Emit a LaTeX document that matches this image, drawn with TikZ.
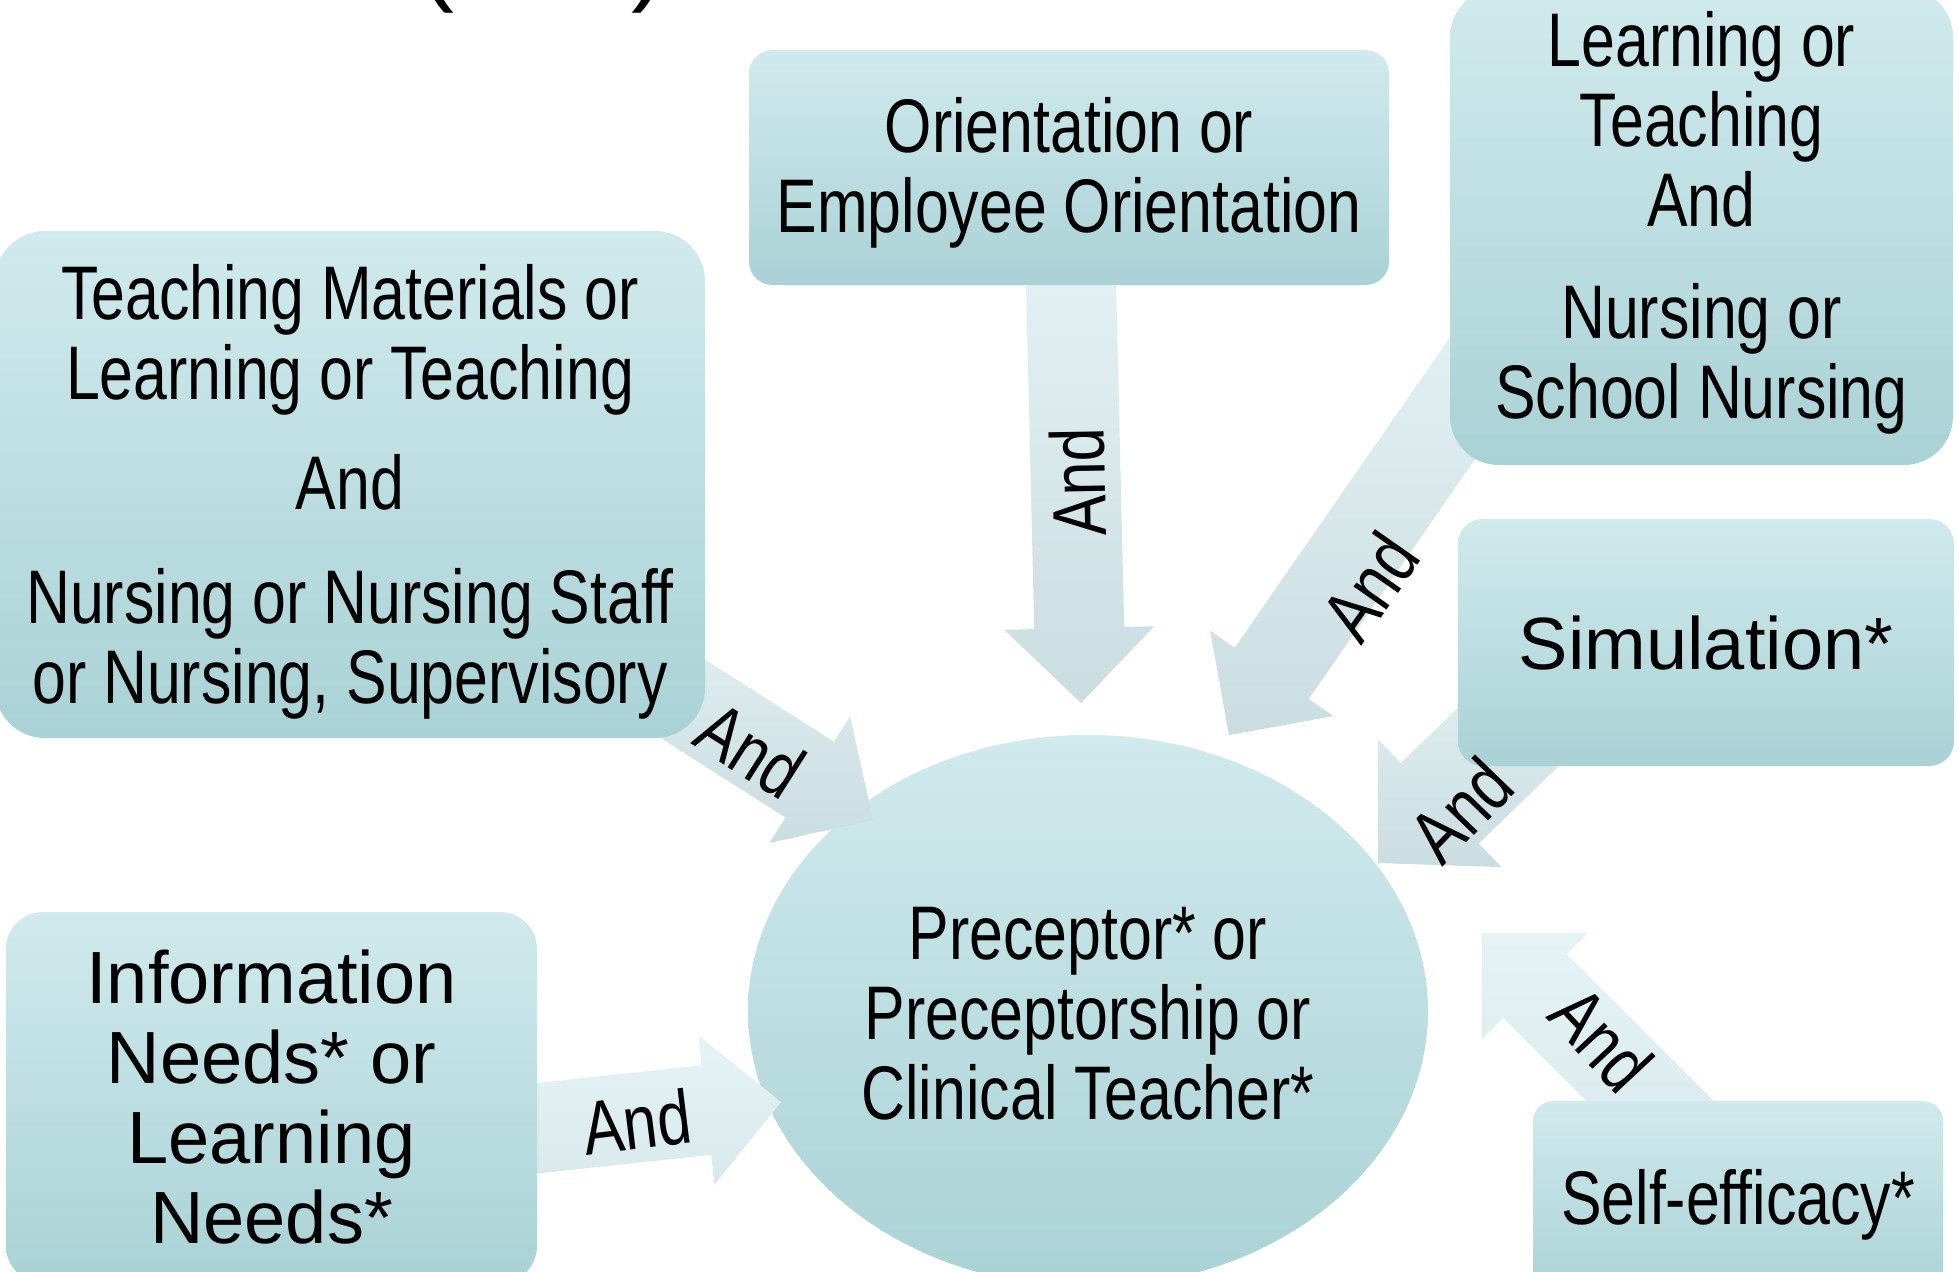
\documentclass[tikz,border=0pt]{standalone}
\usepackage{fontspec}
\setmainfont{Liberation Sans}
\newfontfamily\narrowfont{Liberation Sans}[FakeStretch=0.8]
\usetikzlibrary{shapes.geometric,calc}

\definecolor{boxtop}{RGB}{208,234,237}
\definecolor{boxbot}{RGB}{170,210,214}
\definecolor{arrtop}{RGB}{228,242,245}
\definecolor{arrbot}{RGB}{202,221,224}
\definecolor{arrlighttop}{RGB}{229,243,245}
\definecolor{arrlightbot}{RGB}{216,233,236}

\tikzset{
  termbox/.style={rectangle, inner sep=0pt, draw=none, top color=boxtop, bottom color=boxbot},
  coreshape/.style={ellipse, inner sep=0pt, draw=none, top color=boxtop, bottom color=boxbot},
  narrowtext/.style={inner sep=0pt, align=center, font=\narrowfont\fontsize{38}{40}\selectfont},
  widetext/.style={inner sep=0pt, align=center, font=\fontsize{37}{40}\selectfont},
  andlabel/.style={inner sep=0pt, font=\narrowfont\fontsize{38}{40}\selectfont},
  arrowbody/.style={top color=arrtop, bottom color=arrbot, draw=none},
  arrowlight/.style={top color=arrlighttop, bottom color=arrlightbot, draw=none},
}

% #1 tail, #2 tip, #3 shaft half width, #4 head half width, #5 head length, #6 style
\newcommand{\blockarrow}[6]{%
  \coordinate (#2-base) at ($(#2)!#5!(#1)$);
  \path[#6] ($(#1)!#3!90:(#2)$) -- ($(#2-base)!#3!90:(#2)$) -- ($(#2-base)!#4!90:(#2)$)
    -- (#2) -- ($(#2-base)!#4!-90:(#2)$) -- ($(#2-base)!#3!-90:(#2)$)
    -- ($(#1)!#3!-90:(#2)$) -- cycle;
}

\begin{document}
\begin{tikzpicture}[x=0.5pt,y=-0.5pt]
\useasboundingbox (0,0) rectangle (1958,1271);
\clip (0,0) rectangle (1958,1271);

% cut-off title line
\node[anchor=base west, inner sep=0pt, font=\fontsize{52.5}{60}\selectfont] (title) at (419,-9) {(\hspace{88.6pt})};

% central ellipse
\node[coreshape, minimum width=340pt, minimum height=276pt] (core) at (1088,1011) {};

% arrow end points
\coordinate (sA) at (1070,240);  \coordinate (tA) at (1081,703);
\coordinate (sB) at (553,616);   \coordinate (tB) at (873,820);
\coordinate (sC) at (1525,308);  \coordinate (tC) at (1229,735);
\coordinate (sD) at (1565,682);  \coordinate (tD) at (1378,863);
\coordinate (sE) at (1694,1145); \coordinate (tE) at (1482,933);
\coordinate (sF) at (493,1133);  \coordinate (tF) at (781,1102);

\blockarrow{sA}{tA}{22.5pt}{37.5pt}{37.5pt}{arrowbody}
\blockarrow{sB}{tB}{22.5pt}{37.5pt}{37.5pt}{arrowbody}
\blockarrow{sC}{tC}{22.5pt}{37.5pt}{37.5pt}{arrowbody}
\blockarrow{sD}{tD}{28pt}{44.5pt}{43pt}{arrowbody}
\blockarrow{sE}{tE}{22.5pt}{37.5pt}{37.5pt}{arrowlight}
\blockarrow{sF}{tF}{22.5pt}{37.5pt}{37.5pt}{arrowlight}

% boxes
\node[termbox, minimum width=320pt, minimum height=117.5pt, rounded corners=11.75pt] (orient) at (1069,167.5) {};
\node[termbox, minimum width=355pt, minimum height=253.5pt, rounded corners=25pt] (teach) at (350,484.5) {};
\node[termbox, minimum width=251.5pt, minimum height=238.5pt, rounded corners=24.5pt] (school) at (1701.5,226.5) {};
\node[termbox, minimum width=248pt, minimum height=123.5pt, rounded corners=12.4pt] (sim) at (1706,642.5) {};
\node[termbox, minimum width=265.5pt, minimum height=185.5pt, rounded corners=18.5pt] (info) at (271.5,1097.5) {};
\node[termbox, minimum width=205pt, minimum height=98pt, rounded corners=10pt] (self) at (1738,1199) {};

% arrow labels
\node[andlabel, rotate=91]   (lA) at (1078,482)  {And};
\node[andlabel, rotate=-32.5] (lB) at (751,750)  {And};
\node[andlabel, rotate=55]   (lC) at (1370,587)  {And};
\node[andlabel, rotate=46]   (lD) at (1461,810)  {And};
\node[andlabel, rotate=-47]  (lE) at (1602,1039) {And};
\node[andlabel, rotate=7]    (lF) at (637,1122)  {And};

% texts
\node[narrowtext] (orientT) at (1069,172.5) {Orientation or\\Employee Orientation};
\node[narrowtext] (teachT) at (350,491.5) {Teaching Materials or\\Learning or Teaching\\[15pt]And\\[17pt]Nursing or Nursing Staff\\or Nursing, Supervisory};
\node[narrowtext] (schoolT) at (1701.5,222.5) {Learning or\\Teaching\\And\\[16pt]Nursing or\\School Nursing};
\node[widetext] (simT) at (1706,643) {Simulation*};
\node[widetext] (infoT) at (271.5,1097.5) {Information\\Needs* or\\Learning\\Needs*};
\node[narrowtext] (selfT) at (1738,1205) {Self-efficacy*};
\node[narrowtext] (coreT) at (1088,1014) {Preceptor* or\\Preceptorship or\\Clinical Teacher*};
\end{tikzpicture}
\end{document}
